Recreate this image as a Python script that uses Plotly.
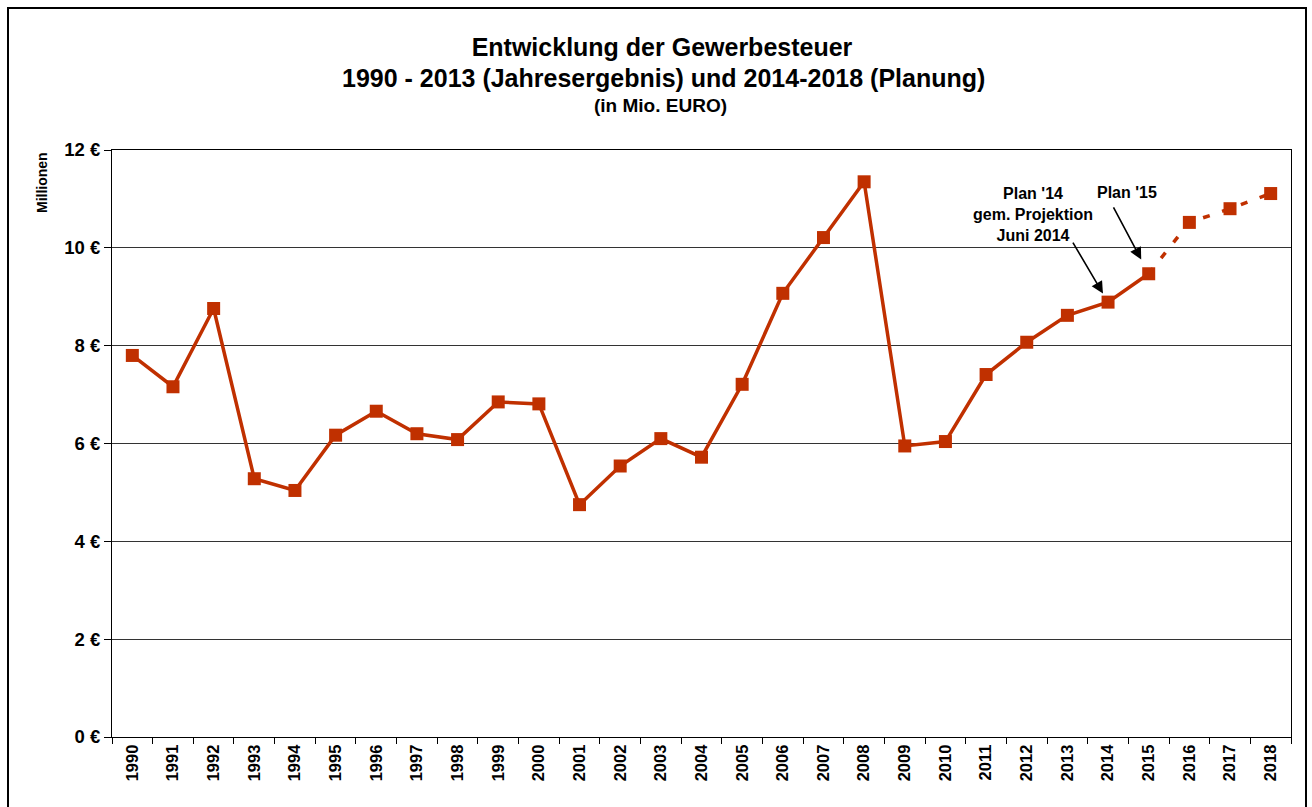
import plotly.graph_objects as go

years = ["1990", "1991", "1992", "1993", "1994", "1995", "1996", "1997", "1998", "1999",
         "2000", "2001", "2002", "2003", "2004", "2005", "2006", "2007", "2008", "2009",
         "2010", "2011", "2012", "2013", "2014", "2015", "2016", "2017", "2018"]
values = [7.80, 7.16, 8.76, 5.28, 5.04, 6.17, 6.66, 6.20, 6.08, 6.85,
          6.81, 4.75, 5.54, 6.10, 5.72, 7.21, 9.07, 10.21, 11.35, 5.95,
          6.04, 7.41, 8.07, 8.62, 8.89, 9.47, 10.52, 10.80, 11.11]
y_tickvals = [0, 2, 4, 6, 8, 10, 12]
y_ticktext = ["0 €", "2 €", "4 €", "6 €", "8 €", "10 €", "12 €"]

last_actual = years.index("2015")
COLOR = "#C03000"
FONT = "Arial, Liberation Sans, sans-serif"

fig = go.Figure()
# actual (solid) segment
fig.add_trace(go.Scatter(
    x=years[:last_actual + 1], y=values[:last_actual + 1], mode="lines+markers",
    line=dict(color=COLOR, width=3.5),
    marker=dict(symbol="square", size=13, color=COLOR), showlegend=False))
# planned (dashed) segment
fig.add_trace(go.Scatter(
    x=years[last_actual:], y=values[last_actual:], mode="lines",
    line=dict(color=COLOR, width=3.5, dash="7px,13px"), hoverinfo="skip", showlegend=False))
fig.add_trace(go.Scatter(
    x=years[last_actual + 1:], y=values[last_actual + 1:], mode="markers",
    marker=dict(symbol="square", size=13, color=COLOR), showlegend=False))

annotations = [
    dict(text="<b>1990 - 2013 (Jahresergebnis) und 2014-2018 (Planung)</b>", xref="paper", yref="paper",
         x=(663 - 112) / 1179, y=(737 - 78) / 587, showarrow=False, xanchor="center", yanchor="middle",
         font=dict(size=25, color="black", family=FONT)),
    dict(text="<b>(in Mio. EURO)</b>", xref="paper", yref="paper",
         x=(660 - 112) / 1179, y=(737 - 106) / 587, showarrow=False, xanchor="center", yanchor="middle",
         font=dict(size=19, color="black", family=FONT)),
    dict(text="<b>Millionen</b>", xref="paper", yref="paper", textangle=-90,
         x=(42 - 112) / 1179, y=(737 - 183) / 587, showarrow=False, xanchor="center", yanchor="middle",
         font=dict(size=14, color="black", family=FONT)),
    dict(text="<b>Plan '14<br>gem. Projektion<br>Juni 2014</b>", xref="paper", yref="paper",
         x=(1033 - 112) / 1179, y=(737 - 214) / 587, showarrow=False, xanchor="center", yanchor="middle",
         font=dict(size=16, color="black", family=FONT)),
    dict(text="<b>Plan '15</b>", xref="paper", yref="paper",
         x=(1127 - 112) / 1179, y=(737 - 193) / 587, showarrow=False, xanchor="center", yanchor="middle",
         font=dict(size=16, color="black", family=FONT)),
]
# arrows pointing at the 2014 and 2015 markers
for yr, ax, ay, so in [("2014", -36, -61, 10), ("2015", -36, -68, 16)]:
    i = years.index(yr)
    annotations.append(dict(
        text="", x=i, y=values[i], xref="x", yref="y",
        showarrow=True, ax=ax, ay=ay, axref="pixel", ayref="pixel",
        standoff=so, arrowhead=2, arrowsize=1.5,
        arrowwidth=1.6, arrowcolor="black", visible=True))

fig.update_layout(
    width=1312, height=807,
    margin=dict(l=112, r=21, t=150, b=70, pad=0),
    paper_bgcolor="white", plot_bgcolor="white",
    font=dict(family=FONT, color="black"),
    title=dict(text="<b>Entwicklung der Gewerbesteuer</b>", x=(662 / 1312), xanchor="center",
               y=1 - 47 / 807, yanchor="middle", yref="container",
               font=dict(size=25, color="black", family=FONT)),
    annotations=annotations,
    shapes=[dict(type="rect", xref="paper", yref="paper",
                 x0=(8 - 112) / 1179, x1=(1306 - 112) / 1179,
                 y0=-0.3, y1=(737 - 8) / 587,
                 line=dict(color="black", width=2), fillcolor="rgba(0,0,0,0)", layer="below")],
    xaxis=dict(type="category", categoryorder="array", categoryarray=years,
               range=[-0.5, len(years) - 0.5], tickson="boundaries",
               tickvals=years, ticktext=["<b>" + y + "</b>" for y in years],
               ticks="outside", ticklen=6, tickcolor="black", tickwidth=1,
               showline=True, linecolor="black", linewidth=1, mirror=True,
               showgrid=False, tickangle=-90,
               tickfont=dict(size=16.5, color="black", family=FONT),
               fixedrange=True),
    yaxis=dict(range=[0, 12], tickvals=y_tickvals, ticktext=["<b>" + t + "</b>" for t in y_ticktext],
               ticks="outside", ticklen=7, tickcolor="black", tickwidth=1,
               showline=True, linecolor="black", linewidth=1, mirror=True,
               showgrid=True, gridcolor="#333333", gridwidth=1, zeroline=False,
               tickfont=dict(size=18.5, color="black", family=FONT), fixedrange=True),
)

fig.write_html("out.html", config={"displayModeBar": False},
               post_script="document.body.style.margin='0';document.body.style.overflow='hidden';")
